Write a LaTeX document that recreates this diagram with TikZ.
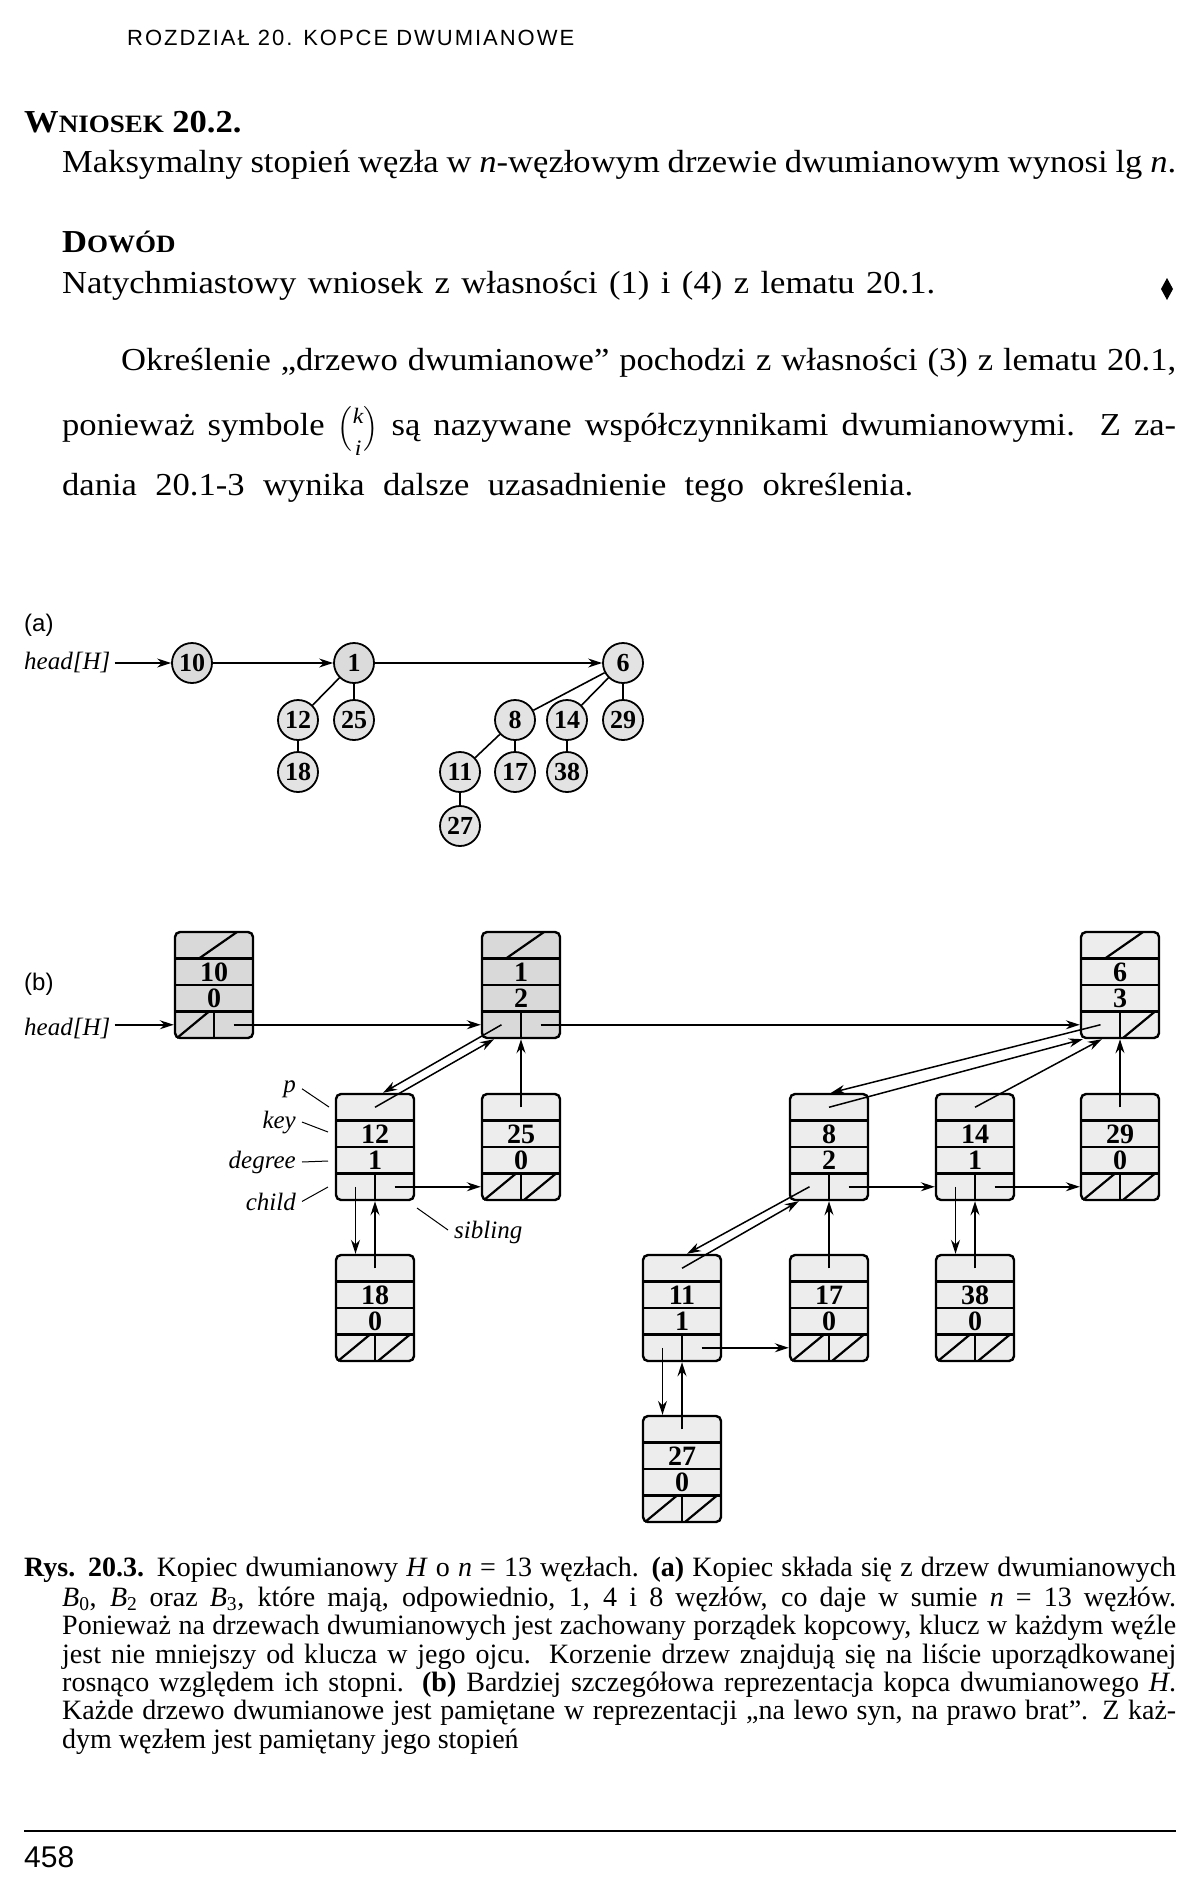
\documentclass[tikz,border=0pt]{standalone}
\usepackage{amsmath}
\usepackage{graphicx}
\usepackage{fontspec}
\setmainfont{Liberation Serif}
\setsansfont{Liberation Sans}
\newfontfamily\bodyfont{Liberation Serif}[FakeStretch=1.08]
\usetikzlibrary{arrows.meta,calc}

\tikzset{
  bodytext/.style={anchor=base west, inner sep=0pt, font=\bodyfont\fontsize{32}{40}\selectfont},
  captext/.style={anchor=base west, inner sep=0pt, font=\fontsize{28}{30}\selectfont},
  lbl/.style={anchor=base east, inner sep=0pt, font=\fontsize{25}{30}\selectfont\itshape},
  seclbl/.style={anchor=base west, inner sep=0pt, font=\fontsize{24}{28}\selectfont\sffamily},
  circ/.style={circle, draw, line width=1.8pt, fill=gray!22, minimum size=40pt, inner sep=0pt, font=\fontsize{26}{26}\selectfont\bfseries},
  tedge/.style={line width=1.6pt},
  ptr/.style={line width=1.5pt, -{Stealth[length=14pt,width=9pt]}},
  bx/.style={draw, line width=2.4pt, rounded corners=5pt, minimum width=78pt, minimum height=106pt, inner sep=0pt},
  rowline/.style={line width=2.2pt},
  nilline/.style={line width=2.2pt},
  num/.style={inner sep=0pt, font=\fontsize{28}{28}\selectfont\bfseries},
  tick/.style={line width=1pt},
}

% box node: name, center x, top y, key, degree, fill
\newcommand{\bnode}[6]{%
  \node[bx, fill=#6] (#1) at (#2, #3+53) {};
  \draw[rowline] (#2-39, #3+26.5) -- (#2+39, #3+26.5);
  \draw[rowline] (#2-39, #3+53) -- (#2+39, #3+53);
  \draw[rowline] (#2-39, #3+79.5) -- (#2+39, #3+79.5);
  \draw[rowline] (#2, #3+79.5) -- (#2, #3+106);
  \node[num] (#1key) at (#2, #3+40) {#4};
  \node[num] (#1deg) at (#2, #3+66.5) {#5};
  \coordinate (#1p) at (#2, #3+13.25);
  \coordinate (#1c) at (#2-19.5, #3+92.75);
  \coordinate (#1s) at (#2+19.5, #3+92.75);
}
\newcommand{\nilp}[2]{\draw[nilline] (#1-15, #2+26.5) -- (#1+23, #2);}
\newcommand{\nilc}[2]{\draw[nilline] (#1-37, #2+106) -- (#1-5, #2+79.5);}
\newcommand{\nils}[2]{\draw[nilline] (#1+3, #2+106) -- (#1+35, #2+79.5);}
\newcommand{\kibinom}{$\Bigl($\raisebox{-20pt}{\fontsize{22}{22}\selectfont\shortstack{\textit{k}\\[14pt]\textit{i}}}$\Bigr)$}

\begin{document}
\begin{tikzpicture}[x=1pt,y=-1pt]
\fill[white] (0,0) rectangle (1200,1892);
\useasboundingbox (0,0) rectangle (1200,1892);

% ---------- page text ----------
\node[anchor=base west, inner sep=0pt, font=\fontsize{22}{26}\sffamily\addfontfeature{LetterSpace=9}] (hdr) at (127,46) {ROZDZIAŁ 20. KOPCE DWUMIANOWE};

\node[anchor=base west, inner sep=0pt, font=\bodyfont\fontsize{32}{40}\selectfont\bfseries] (wn) at (24,132) {W{\fontsize{25}{30}\selectfont NIOSEK} 20.2.};
\node[bodytext] (l1) at (62,172) {\makebox[1114pt][s]{Maksymalny stopień węzła w \textit{n}-węzłowym drzewie dwumianowym wynosi lg~\textit{n}.}};
\node[anchor=base west, inner sep=0pt, font=\bodyfont\fontsize{32}{40}\selectfont\bfseries] (dw) at (62,252) {D{\fontsize{25}{30}\selectfont OWÓD}};
\node[bodytext] (l2) at (62,293) {\makebox[873pt][s]{Natychmiastowy wniosek z własności (1) i (4) z lematu 20.1.}};
\fill (1167,278) -- (1173,289) -- (1167,300) -- (1161,289) -- cycle;
\node[bodytext] (l3) at (121,370) {\makebox[1055pt][s]{Określenie „drzewo dwumianowe” pochodzi z własności (3) z lematu 20.1,}};
\node[bodytext] (l4) at (62,435) {\makebox[1114pt][s]{ponieważ symbole \kibinom{} są nazywane współczynnikami dwumianowymi. Z za-}};
\node[bodytext] (l5) at (62,495) {\makebox[851pt][s]{dania 20.1-3 wynika dalsze uzasadnienie tego określenia.}};

% ---------- (a) ----------
\node[seclbl] (la) at (24,631) {(a)};
\node[lbl, anchor=base west] (headA) at (24,669) {head[H]};
\node[circ, fill=gray!28] (a10) at (192,663) {10};
\node[circ, fill=gray!28] (a1) at (354,663) {1};
\node[circ] (a6) at (623,663) {6};
\node[circ] (a12) at (298,720) {12};
\node[circ] (a25) at (354,720) {25};
\node[circ] (a18) at (298,772) {18};
\node[circ] (a8) at (515,720) {8};
\node[circ] (a14) at (567,720) {14};
\node[circ] (a29) at (623,720) {29};
\node[circ] (a11) at (460,772) {11};
\node[circ] (a17) at (515,772) {17};
\node[circ] (a38) at (567,772) {38};
\node[circ] (a27) at (460,826) {27};

\draw[ptr] ($(headA.east |- a10)+(4,0)$) -- (a10);
\draw[ptr] (a10) -- (a1);
\draw[ptr] (a1) -- (a6);
\draw[tedge] (a1) -- (a12);
\draw[tedge] (a1) -- (a25);
\draw[tedge] (a12) -- (a18);
\draw[tedge] (a6) -- (a8);
\draw[tedge] (a6) -- (a14);
\draw[tedge] (a6) -- (a29);
\draw[tedge] (a8) -- (a11);
\draw[tedge] (a8) -- (a17);
\draw[tedge] (a14) -- (a38);
\draw[tedge] (a11) -- (a27);

% ---------- (b) ----------
\node[seclbl] (lb) at (24,990) {(b)};
\node[lbl, anchor=base west] (headB) at (24,1035) {head[H]};

\bnode{b10}{214}{932}{10}{0}{gray!30}
\bnode{b1}{521}{932}{1}{2}{gray!30}
\bnode{b6}{1120}{932}{6}{3}{gray!14}
\bnode{b12}{375}{1094}{12}{1}{gray!14}
\bnode{b25}{521}{1094}{25}{0}{gray!14}
\bnode{b8}{829}{1094}{8}{2}{gray!14}
\bnode{b14}{975}{1094}{14}{1}{gray!14}
\bnode{b29}{1120}{1094}{29}{0}{gray!14}
\bnode{b18}{375}{1255}{18}{0}{gray!14}
\bnode{b11}{682}{1255}{11}{1}{gray!14}
\bnode{b17}{829}{1255}{17}{0}{gray!14}
\bnode{b38}{975}{1255}{38}{0}{gray!14}
\bnode{b27}{682}{1416}{27}{0}{gray!14}

\nilp{214}{932} \nilp{521}{932} \nilp{1120}{932}
\nilc{214}{932}
\nilc{521}{1094} \nils{521}{1094}
\nilc{1120}{1094} \nils{1120}{1094}
\nils{1120}{932}
\nilc{375}{1255} \nils{375}{1255}
\nilc{829}{1255} \nils{829}{1255}
\nilc{975}{1255} \nils{975}{1255}
\nilc{682}{1416} \nils{682}{1416}

% pointers
\draw[ptr] ($(headB.east |- b10c)+(4,0)$) -- (b10.west |- b10c);
\draw[ptr] (b10s) -- (b1.west |- b10s);
\draw[ptr] (b1s) -- (b6.west |- b1s);
\draw[ptr] (b1c) -- ($(b12.north)+(8,0)$);
\draw[ptr] (b12p) -- ($(b1.south)+(-27,0)$);
\draw[ptr] (b25p) -- (b25p |- b1.south);
\draw[ptr] (b12s) -- (b25.west |- b12s);
\draw[ptr] (b12c) -- (b12c |- b18.north);
\draw[ptr] (b18p) -- (b18p |- b12.south);

\draw[ptr] (b6c) -- ($(b8.north)+(2,0)$);
\draw[ptr] (b8p) -- ($(b6.south west)+(3,0)$);
\draw[ptr] (b14p) -- ($(b6.south west)+(22,0)$);
\draw[ptr] (b29p) -- (b29p |- b6.south);
\draw[ptr] (b8s) -- (b14.west |- b8s);
\draw[ptr] (b14s) -- (b29.west |- b14s);
\draw[ptr] (b14c) -- (b14c |- b38.north);
\draw[ptr] (b38p) -- (b38p |- b14.south);
\draw[ptr] (b8c) -- ($(b11.north)+(5,0)$);
\draw[ptr] (b11p) -- ($(b8.south west)+(10,0)$);
\draw[ptr] (b17p) -- (b17p |- b8.south);
\draw[ptr] (b11s) -- (b17.west |- b11s);
\draw[ptr] (b11c) -- (b11c |- b27.north);
\draw[ptr] (b27p) -- (b27p |- b11.south);

% field labels
\node[lbl] (lp) at (296,1092) {p};
\node[lbl] (lkey) at (296,1128) {key};
\node[lbl] (ldeg) at (296,1168) {degree};
\node[lbl] (lchild) at (296,1210) {child};
\node[lbl, anchor=base west] (lsib) at (454,1238) {sibling};
\coordinate (tp) at (329,1107);
\coordinate (tk) at (328,1132);
\coordinate (td) at (328,1161);
\coordinate (tc) at (328,1187);
\coordinate (ts) at (417,1208);
\draw[tick] ($(lp.east)+(6,0)$) -- (tp);
\draw[tick] ($(lkey.east)+(6,0)$) -- (tk);
\draw[tick] ($(ldeg.east)+(6,0)$) -- (td);
\draw[tick] ($(lchild.east)+(6,0)$) -- (tc);
\draw[tick] ($(lsib.west)+(-6,-2)$) -- (ts);

% ---------- caption ----------
\node[captext] (c1) at (24,1576) {\makebox[1152pt][s]{\textbf{Rys. 20.3.} Kopiec dwumianowy \textit{H} o \textit{n}~=~13 węzłach. \textbf{(a)} Kopiec składa się z drzew dwumianowych}};
\node[captext] (c2) at (62,1606) {\makebox[1114pt][s]{\textit{B}\textsubscript{0}, \textit{B}\textsubscript{2} oraz \textit{B}\textsubscript{3}, które mają, odpowiednio, 1, 4 i 8 węzłów, co daje w sumie \textit{n}~=~13 węzłów.}};
\node[captext] (c3) at (62,1634) {\makebox[1114pt][s]{Ponieważ na drzewach dwumianowych jest zachowany porządek kopcowy, klucz w każdym węźle}};
\node[captext] (c4) at (62,1663) {\makebox[1114pt][s]{jest nie mniejszy od klucza w jego ojcu. Korzenie drzew znajdują się na liście uporządkowanej}};
\node[captext] (c5) at (62,1691) {\makebox[1114pt][s]{rosnąco względem ich stopni. \textbf{(b)} Bardziej szczegółowa reprezentacja kopca dwumianowego \textit{H}.}};
\node[captext] (c6) at (62,1719) {\makebox[1114pt][s]{Każde drzewo dwumianowe jest pamiętane w reprezentacji „na lewo syn, na prawo brat”. Z każ-}};
\node[captext] (c7) at (62,1748) {dym węzłem jest pamiętany jego stopień};

\draw[line width=1.6pt] (24,1831) -- (1176,1831);
\node[anchor=base west, inner sep=0pt, font=\fontsize{30}{34}\sffamily] (pg) at (24,1867) {458};
\end{tikzpicture}
\end{document}
